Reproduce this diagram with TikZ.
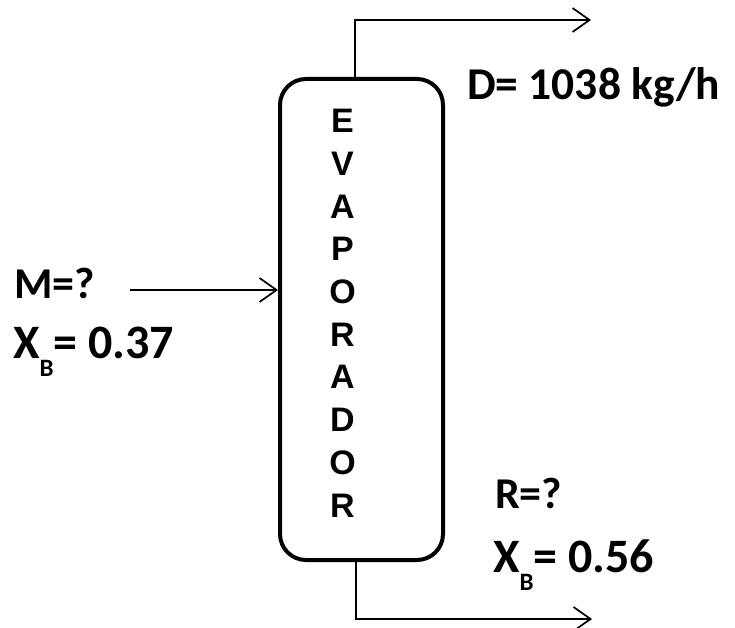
\documentclass[tikz,border=0pt]{standalone}
\usepackage{fontspec}
\setmainfont{Carlito}
\newfontfamily\arialfont{Liberation Sans}
\usetikzlibrary{arrows.meta}
\newcommand{\subB}{\raisebox{-18pt}{\fontsize{25}{25}\selectfont B}}
\begin{document}
\begin{tikzpicture}[x=1pt,y=-1pt,
  lbl/.style={font=\fontsize{44}{44}\selectfont\bfseries, inner sep=0pt, anchor=base west},
  biglbl/.style={lbl, font=\fontsize{48}{48}\selectfont\bfseries},
  letter/.style={font=\arialfont\fontsize{34}{34}\selectfont\bfseries, inner sep=0pt},
  vessel/.style={draw, line width=4pt, rounded corners=26pt, minimum width=163pt, minimum height=481pt, inner sep=0pt},
  flow/.style={line width=1.7pt, -{Straight Barb[length=17pt,width=24pt,line width=1.7pt]}}]
\useasboundingbox (0,0) rectangle (735,628);
\node[vessel] (evap) at (361.5,319.5) {};
\foreach \l [count=\i] in {E,V,A,P,O,R,A,D,O,R}
  \node[letter] (l\i) at (342.5,{121+42.7*(\i-1)}) {\l};
\coordinate (top) at (355,79);
\coordinate (topc) at (355,20);
\coordinate (topend) at (591,20);
\coordinate (bot) at (356,560);
\coordinate (botc) at (356,619);
\coordinate (botend) at (592,619);
\coordinate (feed) at (130,290);
\draw[flow] (top) -- (topc) -- (topend);
\draw[flow] (bot) -- (botc) -- (botend);
\draw[flow] (feed) -- (evap.west |- feed);
\node[lbl, font=\fontsize{45.5}{45.5}\selectfont\bfseries] (dlab) at (467,100) {D= 1038 kg/h};
\node[lbl] (mlab) at (14,298) {M=?};
\node[biglbl] (xm) at (13,358) {X\subB= 0.37};
\node[lbl] (rlab) at (495,508) {R=?};
\node[biglbl] (xr) at (493,572) {X\subB= 0.56};
\end{tikzpicture}
\end{document}
